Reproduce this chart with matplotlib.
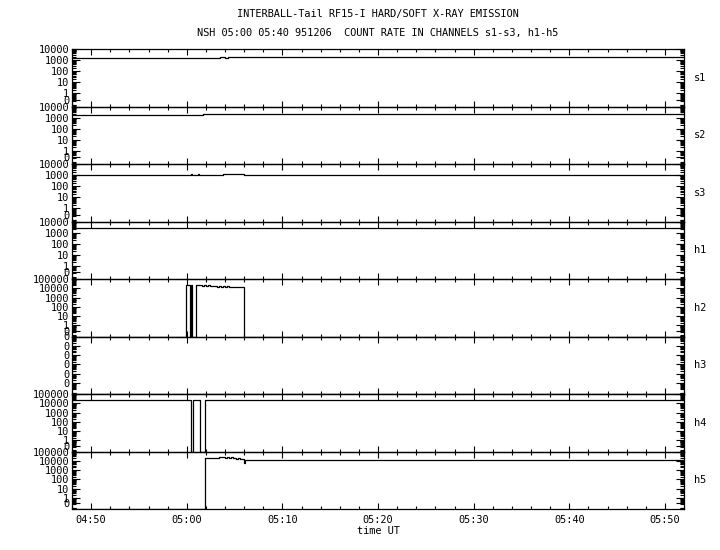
import matplotlib
matplotlib.use('Agg')
import matplotlib.pyplot as plt
import numpy as np
from matplotlib.ticker import FixedLocator, FixedFormatter, LogLocator, NullFormatter, MultipleLocator

plt.rcParams['font.family'] = ['DejaVu Sans Mono', 'DejaVu Sans']
plt.rcParams['font.size'] = 7.4

# ---- data (time in minutes relative to 05:00 UT, counts) ----
channels = ['s1', 's2', 's3', 'h1', 'h2', 'h3', 'h4', 'h5']

t_s1 = [-12, 3.5, 3.8, 4.0, 4.3, 4.6, 5.0, 5.3, 5.6, 52]
c_s1 = [1400, 1750, 1900, 1700, 1850, 1800, 1900, 1750, 1800, 1800]

t_s2 = [-12, 1.7, 52]
c_s2 = [1600, 1950, 1950]

t_s3 = [-12, 0.4, 0.5, 1.2, 1.3, 3.8, 6.0, 52]
c_s3 = [1070, 1200, 1070, 1200, 1070, 1300, 1070, 1070]

t_h1 = [-12, 2.3, 3.7, 52]
c_h1 = [2400, 2700, 2400, 2400]

t_h2 = [-12, -0.03, 0.39, 0.45, 0.52, 1.01, 1.2, 1.4, 1.6, 1.8, 2.0, 2.2, 2.4,
        2.6, 2.8, 3.0, 3.2, 3.4, 3.6, 3.8, 4.0, 4.2, 4.4, 4.6, 4.8, 5.0, 5.2,
        5.4, 5.6, 5.8, 5.96, 52]
c_h2 = [0, 22000, 0, 22000, 0, 22000, 21000, 20000, 19500, 21000, 18000, 20000,
        17500, 19000, 16000, 18500, 15500, 17000, 14500, 16500, 13000, 16000,
        14000, 15500, 13500, 15000, 12500, 14500, 13000, 14000, 0, 0]

t_h3 = [-12, 52]
c_h3 = [0, 0]

t_h4 = [-12, 0.49, 0.66, 1.36, 1.91, 52]
c_h4 = [22000, 0, 22000, 0, 22000, 22000]

t_h5 = [-12, 1.91, 2.2, 2.5, 2.8, 3.1, 3.4, 3.6, 3.8, 4.0, 4.2, 4.4, 4.6,
        4.8, 5.0, 5.2, 5.4, 5.6, 5.8, 6.0, 6.06, 6.1, 52]
c_h5 = [0, 21000, 21000, 20500, 21000, 22000, 26000, 24000, 27000, 22000,
        25000, 20000, 23000, 18000, 21000, 16000, 19000, 14000, 15000, 5500,
        11000, 11000, 11000]

series = {
    's1': (t_s1, c_s1), 's2': (t_s2, c_s2), 's3': (t_s3, c_s3), 'h1': (t_h1, c_h1),
    'h2': (t_h2, c_h2), 'h3': (t_h3, c_h3), 'h4': (t_h4, c_h4), 'h5': (t_h5, c_h5),
}
top_decade = {'s1': 4, 's2': 4, 's3': 4, 'h1': 4, 'h2': 5, 'h3': 5, 'h4': 5, 'h5': 5}

x_ticks = [-10, 0, 10, 20, 30, 40, 50]
x_labels = ['04:50', '05:00', '05:10', '05:20', '05:30', '05:40', '05:50']
x_min, x_max = -12, 52
bottom_exp = -1.2
zero_pos_exp = -0.6

fig = plt.figure(figsize=(7.2, 5.5), dpi=100)
L, R, T, B = 72 / 720, 684 / 720, 1 - 49 / 550, 1 - 509 / 550
h = (T - B) / len(channels)

for i, ch in enumerate(channels):
    ax = fig.add_axes([L, T - (i + 1) * h, R - L, h])
    t, c = series[ch]
    floor = 10 ** bottom_exp
    y = np.where(np.array(c, dtype=float) > 0, np.array(c, dtype=float), floor)
    ax.plot(t, y, drawstyle='steps-post', color='black', lw=0.9, clip_on=True)
    ax.set_yscale('log')
    top = top_decade[ch]
    ax.set_ylim(floor, 10 ** top)
    ax.set_xlim(x_min, x_max)

    if ch == 'h3':
        yt = [10.0 ** k for k in range(0, top + 1)]
        yl = ['0'] * len(yt)
    else:
        yt = [10 ** zero_pos_exp] + [10.0 ** k for k in range(0, top + 1)]
        yl = ['0'] + [str(10 ** k) for k in range(0, top + 1)]
    ax.yaxis.set_major_locator(FixedLocator(yt))
    ax.yaxis.set_major_formatter(FixedFormatter(yl))
    ax.yaxis.set_minor_locator(LogLocator(base=10, subs=np.arange(2, 10), numticks=50))
    ax.yaxis.set_minor_formatter(NullFormatter())

    ax.xaxis.set_major_locator(FixedLocator(x_ticks))
    ax.xaxis.set_minor_locator(MultipleLocator(2))
    if i == len(channels) - 1:
        ax.set_xticklabels(x_labels)
        ax.set_xlabel('time UT', labelpad=1)
    else:
        ax.set_xticklabels([])

    ax.tick_params(axis='x', which='major', direction='in', length=4, width=0.8,
                   top=True, bottom=True, pad=4)
    ax.tick_params(axis='x', which='minor', direction='in', length=2.2, width=0.8,
                   top=True, bottom=True)
    ax.tick_params(axis='y', which='major', direction='in', length=5.5, width=0.8,
                   left=True, right=True, pad=2)
    ax.tick_params(axis='y', which='minor', direction='in', length=3, width=0.8,
                   left=True, right=True)
    for s in ax.spines.values():
        s.set_linewidth(0.9)
    ax.patch.set_alpha(0)

    yc = T - (i + 0.5) * h
    fig.text(694 / 720, yc, ch, ha='left', va='center')

fig.text(0.5 * (L + R) + 0.0, 1 - 14 / 550, 'INTERBALL-Tail RF15-I HARD/SOFT X-RAY EMISSION',
         ha='center', va='center')
fig.text(0.5 * (L + R) + 0.0, 1 - 33 / 550,
         'NSH 05:00 05:40 951206  COUNT RATE IN CHANNELS s1-s3, h1-h5',
         ha='center', va='center')

fig.savefig('out.png', dpi=100, facecolor='white')
